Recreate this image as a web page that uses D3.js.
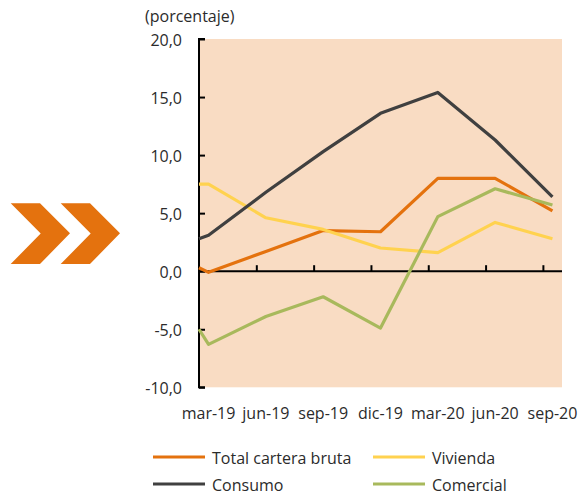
<!DOCTYPE html>
<html><head><meta charset="utf-8">
<script src="https://cdn.jsdelivr.net/npm/d3@7"></script>
<style>body{margin:0;background:#fff}svg{display:block}text{font-family:"Open Sans",sans-serif;fill:#2b2b2b}</style>
</head><body>
<script>
const categories = ["mar-19","jun-19","sep-19","dic-19","mar-20","jun-20","sep-20"];
const categoryMonths = [0,3,6,9,12,15,18];
const pointMonths = [-0.5,0,3,6,9,12,15,18];
const yTicks = [-10,-5,0,5,10,15,20];
const seriesNames = ["Total cartera bruta","Vivienda","Consumo","Comercial"];
const total = [0.3,-0.1,1.7,3.5,3.4,8.0,8.0,5.2];
const vivienda = [7.5,7.5,4.6,3.6,2.0,1.6,4.2,2.8];
const consumo = [2.8,3.1,6.8,10.3,13.6,15.4,11.3,6.4];
const comercial = [-5.0,-6.3,-3.9,-2.2,-4.9,4.7,7.1,5.7];
const colors = ["#E4720E","#FFD24F","#404040","#A8B95C"];
const seriesValues = [total,vivienda,consumo,comercial];

const W=578,H=495;
const svg=d3.select("body").append("svg").attr("width",W).attr("height",H);
const x=d3.scaleLinear().domain([-0.5,18.5]).range([199,562]);
const y=d3.scaleLinear().domain([-10,20]).range([387.3,39]);

// chevrons
const chev=[[0,0],[29.3,0],[59.3,30],[29.3,60.7],[0,60.7],[30,30.3]];
[10.7,60.7].forEach(ox=>{
  svg.append("polygon").attr("points",chev.map(p=>[p[0]+ox,p[1]+203.3].join(",")).join(" ")).attr("fill","#E4720E");
});

svg.append("rect").attr("x",x(-0.5)).attr("y",y(20)).attr("width",x(18.5)-x(-0.5)).attr("height",y(-10)-y(20)).attr("fill","#F9DCC3");

svg.append("text").attr("x",145).attr("y",21.5).attr("font-size",16).text("(porcentaje)");

// y axis
const yAxis=d3.axisRight(y).tickValues(yTicks).tickSize(6).tickFormat(d=>d3.format(".1f")(d).replace(".",",").replace("−","-"));
const gy=svg.append("g").attr("transform",`translate(${x(-0.5)},0)`).call(yAxis);
gy.select(".domain").attr("stroke","#000").attr("stroke-width",2).attr("d",`M6,${y(20)}H0V${y(-10)}H6`);
gy.selectAll(".tick line").attr("stroke","#000").attr("stroke-width",2);
gy.selectAll(".tick text").attr("x",-17).attr("dy","0.4em").attr("text-anchor","end").attr("font-size",16).attr("fill","#2b2b2b").attr("font-family","Open Sans, sans-serif");

// x axis at zero
const gx=svg.append("g").attr("transform",`translate(0,${y(0)})`).call(d3.axisTop(x).tickValues([2.5,5.5,8.5,11.5,14.5,17.5]).tickSize(6).tickFormat(""));
gx.select(".domain").attr("stroke","#000").attr("stroke-width",2).attr("d",`M${x(-0.5)},0H${x(18.5)}`);
gx.selectAll(".tick line").attr("stroke","#000").attr("stroke-width",2);

// x labels
svg.append("g").selectAll("text").data(categories).join("text")
  .attr("x",(d,i)=>x(categoryMonths[i])).attr("y",419).attr("text-anchor","middle").attr("font-size",16).text(d=>d);

// lines
const line=d3.line().x((d,i)=>x(pointMonths[i])).y(d=>y(d));
seriesValues.forEach((vals,k)=>{
  svg.append("path").attr("d",line(vals)).attr("fill","none").attr("stroke",colors[k]).attr("stroke-width",3.2).attr("stroke-linejoin","round");
});

// legend
const legPos=[[153,457],[373,457],[153,484],[373,484]];
seriesNames.forEach((n,k)=>{
  const [lx,ly]=legPos[k];
  svg.append("line").attr("x1",lx).attr("x2",lx+52).attr("y1",ly).attr("y2",ly).attr("stroke",colors[k]).attr("stroke-width",3.2);
  svg.append("text").attr("x",lx+59).attr("y",ly+7).attr("font-size",16).text(n);
});
</script>
</body></html>
